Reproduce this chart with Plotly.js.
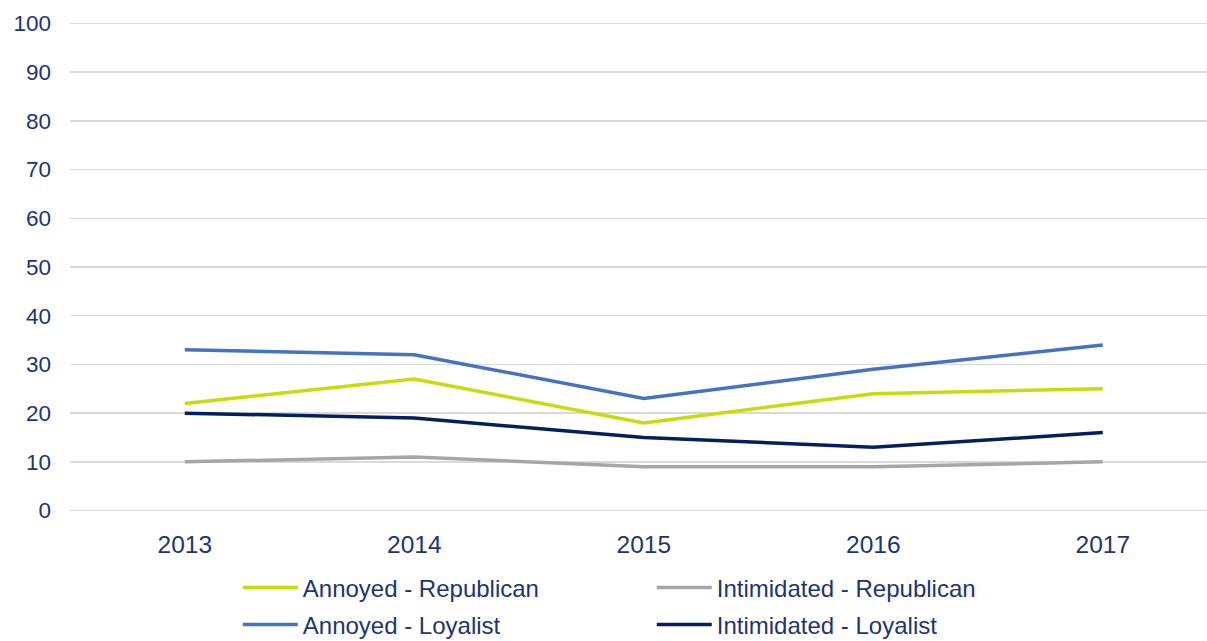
<!DOCTYPE html>
<html>
<head>
<meta charset="utf-8">
<script src="https://cdn.plot.ly/plotly-3.0.1.min.js"></script>
<style>html,body{margin:0;padding:0;background:#fff;}#chart{width:1207px;height:641px;}</style>
</head>
<body>
<div id="chart"></div>
<script>
const years = ["2013", "2014", "2015", "2016", "2017"];
const annoyedRepublican = [22, 27, 18, 24, 25];
const intimidatedRepublican = [10, 11, 9, 9, 10];
const annoyedLoyalist = [33, 32, 23, 29, 34];
const intimidatedLoyalist = [20, 19, 15, 13, 16];
const yTicks = [0, 10, 20, 30, 40, 50, 60, 70, 80, 90, 100];

const textColor = "#1c3574";
function series(name, y, color, legend) {
  return {type: "scatter", mode: "lines", name: name, x: years, y: y, legend: legend,
    line: {color: color, width: 3.5}, hoverinfo: "x+y+name"};
}
const data = [
  series("Annoyed - Republican", annoyedRepublican, "#c8dc0a", "legend"),
  series("Intimidated - Republican", intimidatedRepublican, "#a6a6a6", "legend"),
  series("Annoyed - Loyalist", annoyedLoyalist, "#4472c4", "legend2"),
  series("Intimidated - Loyalist", intimidatedLoyalist, "#002060", "legend2")
];
function legendAt(yMid) {
  return {orientation: "h", xref: "container", yref: "container", x: 0.197, y: yMid,
    xanchor: "left", yanchor: "middle", entrywidth: 344, entrywidthmode: "pixels",
    font: {size: 24, color: textColor}, itemwidth: 55, traceorder: "normal", bgcolor: "rgba(0,0,0,0)"};
}
const layout = {
  width: 1207, height: 641,
  margin: {l: 70, r: 0, t: 20.6, b: 127.6},
  paper_bgcolor: "#fff", plot_bgcolor: "#fff",
  font: {family: "Liberation Sans, Arial, sans-serif", color: textColor},
  xaxis: {type: "category", range: [-0.5, 4.454], showgrid: false, zeroline: false,
    showline: false, ticks: "", tickfont: {size: 24.5, color: textColor}, ticklabelstandoff: 14},
  yaxis: {range: [-0.5, 100.5], tickvals: yTicks, showgrid: true, gridcolor: "#d9d9d9", gridwidth: 1.5,
    zeroline: false, showline: false, ticks: "", tickfont: {size: 22.5, color: textColor}, ticklabelstandoff: 18},
  showlegend: true,
  legend: legendAt(1 - 588 / 641),
  legend2: legendAt(1 - 625 / 641)
};
Plotly.newPlot("chart", data, layout, {displayModeBar: false, staticPlot: true});
</script>
</body>
</html>
